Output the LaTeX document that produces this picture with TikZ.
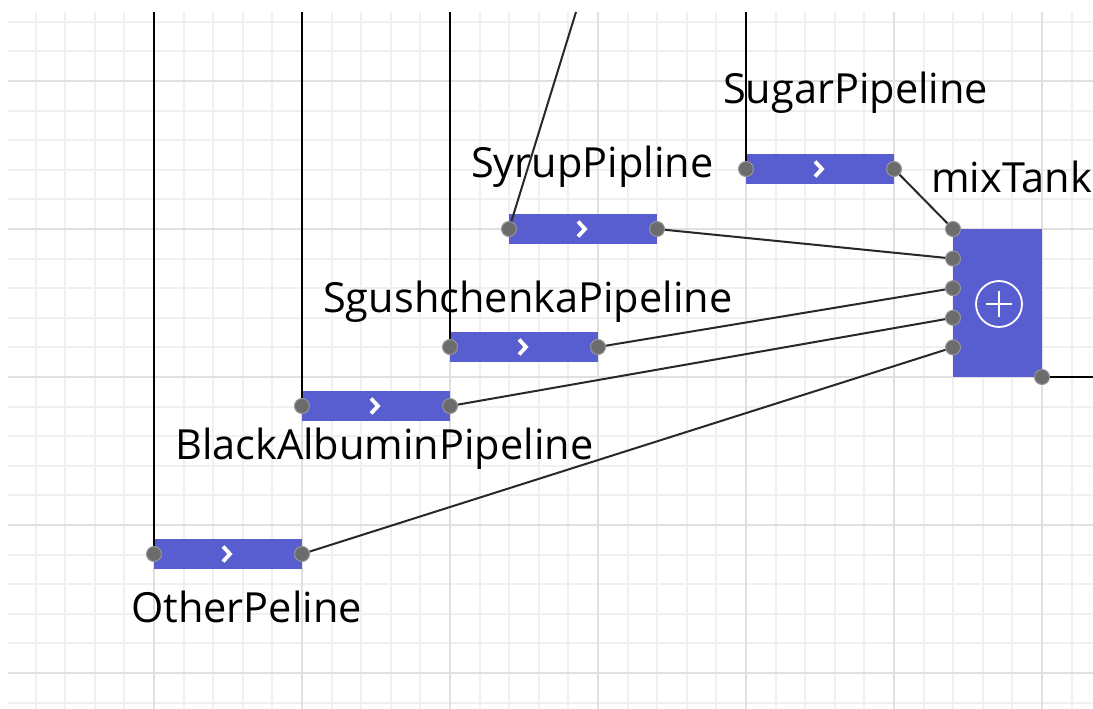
\documentclass[tikz,border=0pt]{standalone}
\usepackage{fontspec}
\setmainfont{Open Sans}
\definecolor{procblue}{RGB}{88,94,208}
\definecolor{portgray}{RGB}{108,108,108}
\definecolor{portrim}{RGB}{150,150,150}
\definecolor{minorgrid}{RGB}{240,240,240}
\definecolor{majorgrid}{RGB}{224,224,224}
\definecolor{linkgray}{RGB}{40,40,40}
\begin{document}
\begin{tikzpicture}[x=1pt,y=-1pt,
  minorline/.style={draw=minorgrid,line width=2pt},
  majorline/.style={draw=majorgrid,line width=2pt},
  pipe/.style={rectangle,fill=procblue,minimum width=148pt,minimum height=30pt,inner sep=0pt,outer sep=0pt},
  tank/.style={rectangle,fill=procblue,minimum width=89pt,minimum height=148pt,inner sep=0pt,outer sep=0pt},
  port/.style={circle,fill=portgray,draw=portrim,line width=1pt,minimum size=15pt,inner sep=0pt},
  chev/.style={draw=white,line width=3.8pt,line join=miter},
  feed/.style={draw=black,line width=2.4pt},
  link/.style={draw=linkgray,line width=2pt},
  lbl/.style={anchor=base west,inner sep=0pt,font=\fontsize{41.5}{48}\selectfont}]
\useasboundingbox (0,0) rectangle (1093,709);
\fill[white] (0,0) rectangle (1093,709);

% background grid
\begin{scope}
  \clip (8,12) rectangle (1093,709);
  \foreach \i in {0,...,37} {\draw[minorline] ({6+29.6*\i},12) -- ({6+29.6*\i},709);}
  \foreach \j in {0,...,23} {\draw[minorline] (8,{21.8+29.6*\j}) -- (1093,{21.8+29.6*\j});}
  \foreach \i in {0,...,6} {\draw[majorline] ({154+148*\i},12) -- ({154+148*\i},709);}
  \foreach \j in {0,...,4} {\draw[majorline] (8,{81+148*\j}) -- (1093,{81+148*\j});}
\end{scope}

% process blocks
\node[pipe] (sugar) at (820,169) {};
\node[pipe] (syrup) at (583,229) {};
\node[pipe] (sgush) at (524,347) {};
\node[pipe] (black) at (376,406) {};
\node[pipe] (other) at (228,554) {};
\node[tank] (mix) at (997.5,303) {};

% direction marks on the pipelines
\foreach \p in {sugar,syrup,sgush,black,other}
  \draw[chev,shift={(\p.center)}] (-5,-7.5) -- (2,0) -- (-5,7.5);

% mixer symbol
\draw[white,line width=1.8pt] (mix.center) ++(1.5,1) circle (23);
\draw[white,line width=2pt] (mix.center) ++(-11.5,1) -- ++(26,0);
\draw[white,line width=2pt] (mix.center) ++(1.5,-12) -- ++(0,26);

% free ends of the incoming and outgoing lines
\coordinate (sugarTop) at (746,12);
\coordinate (syrupTop) at (576,12);
\coordinate (sgushTop) at (450,12);
\coordinate (blackTop) at (302,12);
\coordinate (otherTop) at (154,12);
\coordinate (mixEnd) at (1093,377);

% ports
\node[port] (sugarIn) at (sugar.west) {};
\node[port] (sugarOut) at (sugar.east) {};
\node[port] (syrupIn) at (syrup.west) {};
\node[port] (syrupOut) at (syrup.east) {};
\node[port] (sgushIn) at (sgush.west) {};
\node[port] (sgushOut) at (sgush.east) {};
\node[port] (blackIn) at (black.west) {};
\node[port] (blackOut) at (black.east) {};
\node[port] (otherIn) at (other.west) {};
\node[port] (otherOut) at (other.east) {};
\node[port] (mixA) at (953,229) {};
\node[port] (mixB) at (953,258.6) {};
\node[port] (mixC) at (953,288.2) {};
\node[port] (mixD) at (953,317.8) {};
\node[port] (mixE) at (953,347.4) {};
\node[port] (mixOut) at (1042,377) {};

% connectors, port to port
\draw[feed] (sugarTop) -- (sugarIn);
\draw[link] (syrupTop) -- (syrupIn);
\draw[feed] (sgushTop) -- (sgushIn);
\draw[feed] (blackTop) -- (blackIn);
\draw[feed] (otherTop) -- (otherIn);
\draw[link] (sugarOut) -- (mixA);
\draw[link] (syrupOut) -- (mixB);
\draw[link] (sgushOut) -- (mixC);
\draw[link] (blackOut) -- (mixD);
\draw[link] (otherOut) -- (mixE);
\draw[feed] (mixOut) -- (mixEnd);

% labels
\node[lbl] (sugarLbl) at (723,103) {SugarPipeline};
\node[lbl] (syrupLbl) at (471,177) {SyrupPipline};
\node[lbl] (mixLbl) at (931,192) {mixTank};
\node[lbl] (sgushLbl) at (323,312) {SgushchenkaPipeline};
\node[lbl] (blackLbl) at (175,459) {BlackAlbuminPipeline};
\node[lbl] (otherLbl) at (131,622) {OtherPeline};
\end{tikzpicture}
\end{document}
